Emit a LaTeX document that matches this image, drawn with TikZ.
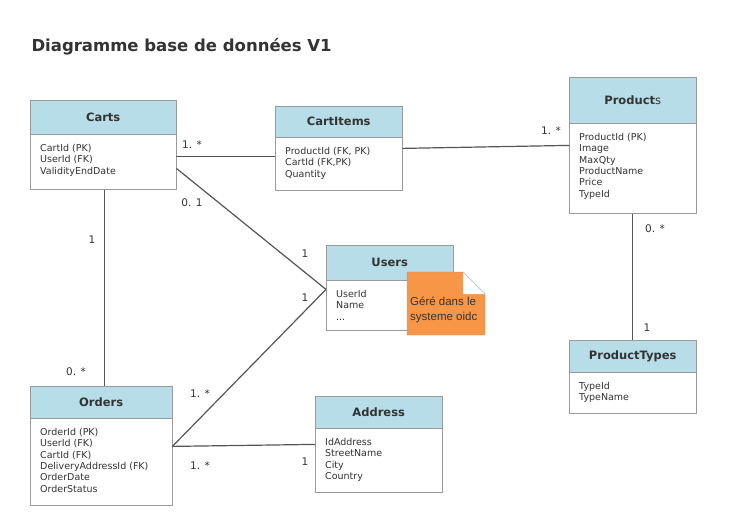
\documentclass[tikz,border=0pt]{standalone}
\usepackage{fontspec}
\setmainfont{DejaVu Sans}
\newfontfamily\notefont{Liberation Sans}
\usetikzlibrary{positioning}
\definecolor{headblue}{HTML}{B7DDE8}
\definecolor{boxgray}{HTML}{9A9A9A}
\definecolor{linegray}{HTML}{555555}
\definecolor{textgray}{HTML}{333333}
\definecolor{noteorange}{HTML}{F79646}
\begin{document}
\begin{tikzpicture}[x=1pt, y=-1pt,
    tablehead/.style={draw=boxgray, fill=headblue, anchor=north west, inner sep=0pt,
        font=\bfseries\fontsize{11.5}{13}\selectfont, text=textgray},
    tablebody/.style={draw=boxgray, fill=white, anchor=north west, inner sep=0pt},
    attrs/.style={align=left, inner sep=0pt, font=\fontsize{9.5}{11.4}\selectfont, text=textgray},
    link/.style={draw=linegray, line width=1.2pt},
    mult/.style={font=\fontsize{10.5}{12}\selectfont, text=textgray}]
    \useasboundingbox (0, 0) rectangle (751, 516);
    \node[anchor=west, text=textgray, font=\bfseries\fontsize{16.5}{19}\selectfont] (title) at(28, 47) {Diagramme base de données V1};

    % tables
    \node[tablehead, minimum width=146pt, minimum height=34pt] (cartshead) at(30, 100) {Carts};
    \node[tablebody, minimum width=146pt, minimum height=55pt] (cartsbody) at(cartshead.south west) {};
    \node[attrs, below right=9.5pt and 10pt of cartsbody.north west] (cartsattr) {CartId (PK)\\UserId (FK)\\ValidityEndDate};

    \node[tablehead, minimum width=127pt, minimum height=31pt] (cartitemshead) at(275, 106) {CartItems};
    \node[tablebody, minimum width=127pt, minimum height=53pt] (cartitemsbody) at(cartitemshead.south west) {};
    \node[attrs, below right=9.5pt and 10pt of cartitemsbody.north west] (cartitemsattr) {ProductId (FK, PK)\\CartId (FK,PK)\\Quantity};

    \node[tablehead, minimum width=127pt, minimum height=46pt] (productshead) at(569, 77) {Product{\mdseries s}};
    \node[tablebody, minimum width=127pt, minimum height=90pt] (productsbody) at(productshead.south west) {};
    \node[attrs, below right=9.5pt and 10pt of productsbody.north west] (productsattr) {ProductId (PK)\\Image\\MaxQty\\ProductName\\Price\\TypeId};

    \node[tablehead, minimum width=127pt, minimum height=35pt] (usershead) at(326, 245) {Users};
    \node[tablebody, minimum width=127pt, minimum height=50pt] (usersbody) at(usershead.south west) {};
    \node[attrs, below right=9.5pt and 10pt of usersbody.north west] (usersattr) {UserId\\Name\\...};

    \node[tablehead, minimum width=127pt, minimum height=32pt] (typeshead) at(569, 340) {ProductTypes};
    \node[tablebody, minimum width=127pt, minimum height=41pt] (typesbody) at(typeshead.south west) {};
    \node[attrs, below right=9.5pt and 10pt of typesbody.north west] (typesattr) {TypeId\\TypeName};

    \node[tablehead, minimum width=142pt, minimum height=32pt] (ordershead) at(30, 386) {Orders};
    \node[tablebody, minimum width=142pt, minimum height=87pt] (ordersbody) at(ordershead.south west) {};
    \node[attrs, below right=9.5pt and 10pt of ordersbody.north west] (ordersattr) {OrderId (PK)\\UserId (FK)\\CartId (FK)\\DeliveryAddressId (FK)\\OrderDate\\OrderStatus};

    \node[tablehead, minimum width=127pt, minimum height=32pt] (addresshead) at(315, 396) {Address};
    \node[tablebody, minimum width=127pt, minimum height=64pt] (addressbody) at(addresshead.south west) {};
    \node[attrs, below right=9.5pt and 10pt of addressbody.north west] (addressattr) {IdAddress\\StreetName\\City\\Country};

    % note
    \draw[draw=boxgray, fill=noteorange] (407, 272) -- (463, 272) -- (485, 294) -- (485, 335) -- (407, 335) -- cycle;
    \draw[draw=boxgray!60, fill=white] (463, 272) -- (463, 294) -- (485, 294) -- cycle;
    \node[anchor=north west, align=left, inner sep=0pt, text=textgray, font=\notefont\fontsize{11.5}{15}\selectfont] (note) at(410, 297) {Géré dans le\\systeme oidc};

    % links
    \draw[link] ([yshift=-22pt]cartsbody.north east) -- ([yshift=-19pt]cartitemsbody.north west);
    \draw[link] ([yshift=-11pt]cartitemsbody.north east) -- ([yshift=-22pt]productsbody.north west);
    \draw[link] ([yshift=-34pt]cartsbody.north east) -- ([yshift=-9pt]usersbody.north west);
    \draw[link] ([yshift=-28pt]ordersbody.north east) -- ([yshift=-9pt]usersbody.north west);
    \draw[link] ([yshift=-28pt]ordersbody.north east) -- ([yshift=-16pt]addressbody.north west);
    \draw[link] ([xshift=1pt]cartsbody.south) -- ([xshift=1pt]cartsbody.south |- ordershead.north);
    \draw[link] (productsbody.south) -- (typeshead.north);

    % multiplicities
    \node[mult] (m1) at(192, 145) {1. *};
    \node[mult] (m2) at(551, 131) {1. *};
    \node[mult] (m3) at(192, 203) {0. 1};
    \node[mult] (m4) at(305, 254) {1};
    \node[mult] (m5) at(305, 298) {1};
    \node[mult] (m6) at(200, 394) {1. *};
    \node[mult] (m7) at(200, 466) {1. *};
    \node[mult] (m8) at(305, 462) {1};
    \node[mult] (m9) at(92, 240) {1};
    \node[mult] (m10) at(76, 372) {0. *};
    \node[mult] (m11) at(655, 229) {0. *};
    \node[mult] (m12) at(647, 328) {1};
\end{tikzpicture}
\end{document}
